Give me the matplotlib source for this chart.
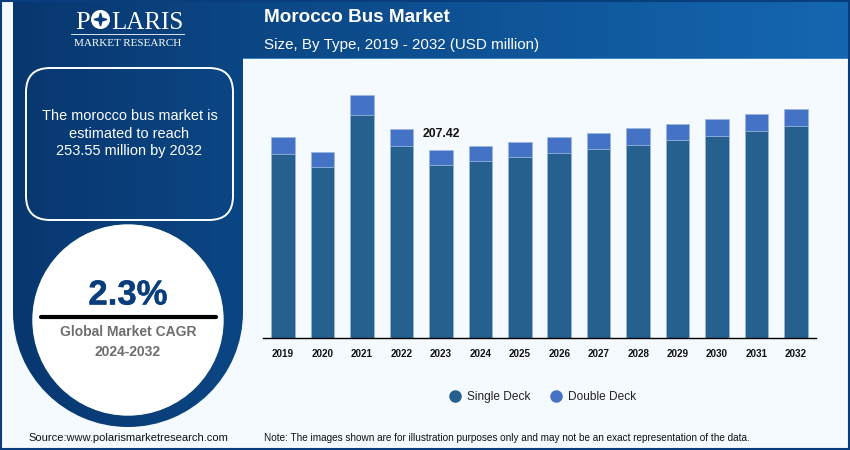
import numpy as np
import matplotlib
matplotlib.use('Agg')
import matplotlib.pyplot as plt
import matplotlib.patheffects as pe
from matplotlib.lines import Line2D
from matplotlib.patches import Circle, FancyBboxPatch, PathPatch, Polygon, Rectangle
from matplotlib.path import Path

plt.rcParams['font.family'] = ['Liberation Sans', 'DejaVu Sans']

# Chart data, USD million
years = ['2019', '2020', '2021', '2022', '2023', '2024', '2025',
         '2026', '2027', '2028', '2029', '2030', '2031', '2032']
single_deck = [203.2, 188.8, 246.2, 212.0, 190.7, 195.1, 199.5,
               203.9, 208.3, 213.1, 218.3, 223.0, 228.6, 234.1]
double_deck = [18.4, 16.7, 22.0, 18.6, 16.72, 16.7, 17.1,
               17.9, 17.9, 18.6, 18.2, 19.0, 18.9, 19.45]
labelled_year = '2023'
labelled_value = '207.42'

NAVY = '#0a3d7c'
PAGE = '#f4fafd'
SINGLE_COLOR = '#25608f'
DOUBLE_COLOR = '#4472c4'
BAR_EDGE = '#9db8e2'

fig = plt.figure(figsize=(8.5, 4.5), dpi=100, facecolor=PAGE)

# Full-figure layer in pixel coordinates for the infographic frame
bg = fig.add_axes([0, 0, 1, 1], zorder=0)
bg.set_xlim(0, 850)
bg.set_ylim(450, 0)
bg.axis('off')


def hgradient(ax, extent, left, right, clip=None, zorder=1):
    cmap = matplotlib.colors.LinearSegmentedColormap.from_list('g', [left, right])
    im = ax.imshow(np.linspace(0, 1, 256).reshape(1, -1), cmap=cmap, extent=extent,
                   aspect='auto', zorder=zorder)
    if clip is not None:
        im.set_clip_path(clip)
    return im


# Header band
hgradient(bg, (243, 848, 58, 2), '#0b4684', '#1467b0')
bg.add_patch(Rectangle((243, 58), 605, 1, color='#3f86c4', lw=0, zorder=2))

# Left panel: square top, round bottom
cx, cy, r = 128, 312, 115
k = 0.5523 * r
panel_path = Path(
    [(13, 2), (243, 2), (243, cy),
     (243, cy + k), (cx + k, cy + r), (cx, cy + r),
     (cx - k, cy + r), (13, cy + k), (13, cy), (13, 2)],
    [Path.MOVETO, Path.LINETO, Path.LINETO,
     Path.CURVE4, Path.CURVE4, Path.CURVE4,
     Path.CURVE4, Path.CURVE4, Path.CURVE4, Path.CLOSEPOLY])
panel = PathPatch(panel_path, facecolor='none', edgecolor='none', transform=bg.transData)
bg.add_patch(panel)
hgradient(bg, (13, 243, 430, 2), '#08376f', '#0b4684', clip=panel)
bg.set_xlim(0, 850)
bg.set_ylim(450, 0)

# Logo
logo_kw = dict(color='white', family='Liberation Serif', zorder=5)
bg.text(75.5, 29, 'P', fontsize=19, ha='left', va='baseline', **logo_kw)
bg.add_patch(Circle((100.5, 19.5), 8.8, color='white', zorder=5))
bg.add_patch(Polygon([(100.5 + (6.5 if i % 2 == 0 else 2) * np.cos(i * np.pi / 4),
                       19.5 + (6.5 if i % 2 == 0 else 2) * np.sin(i * np.pi / 4))
                      for i in range(8)], color=NAVY, zorder=6))
bg.text(111, 29, 'LARIS', fontsize=18, ha='left', va='baseline', **logo_kw)
bg.plot([71, 184], [34, 34], color='white', lw=0.6, zorder=5)
bg.text(128, 44, 'MARKET RESEARCH', fontsize=8, ha='center', va='center', **logo_kw)

# Text box
bg.add_patch(FancyBboxPatch((26 + 24, 68 + 24), 207 - 48, 152 - 48,
                            boxstyle='round,pad=24,rounding_size=24',
                            facecolor='none', edgecolor='white', lw=1.4, zorder=5))
for y, line in zip([115.5, 133.5, 151.5], ['The morocco bus market is', 'estimated to reach',
                                           '253.55 million by 2032']):
    bg.text(129.5, y, line, color='white', fontsize=10.45, ha='center', va='center', zorder=6)

# CAGR circle
bg.add_patch(Circle((128, 320), 95, color='white', zorder=5))
bg.text(128, 295, '2.3%', color=NAVY, fontsize=25, fontweight='bold', ha='center', va='center',
        zorder=6, path_effects=[pe.withStroke(linewidth=0.3, foreground=NAVY)])
bg.plot([41, 216], [316.7, 316.7], color='black', lw=3, solid_capstyle='round', zorder=6)
bg.text(128, 332.5, 'Global Market CAGR', color='#6e6e6e', fontsize=10, fontweight='bold',
        ha='center', va='center', zorder=6)
bg.text(128, 351.5, '2024-2032', color='#6e6e6e', fontsize=10, fontweight='bold',
        ha='center', va='center', zorder=6)

# Header and footer text
bg.text(264, 18, 'Morocco Bus Market', color='white', fontsize=13.6, fontweight='bold',
        va='center', zorder=6)
bg.text(264, 44.5, 'Size, By Type, 2019 - 2032 (USD million)', color='white', fontsize=10.9,
        va='center', zorder=6)
bg.text(28, 438, 'Source:www.polarismarketresearch.com', color='#111111', fontsize=8,
        va='center', zorder=6)
bg.text(264, 438, 'Note: The images shown are for illustration purposes only and may not be '
        'an exact representation of the data.', color='#111111', fontsize=7.2,
        va='center', zorder=6)

# Outer border
bg.add_patch(Rectangle((1, 1), 848, 448, facecolor='none', edgecolor=NAVY, lw=1.5, zorder=8))

# Bar chart
ax = fig.add_axes([263.4 / 850, (450 - 338) / 450, 552.2 / 850, 280 / 450],
                  facecolor='none', zorder=2)
positions = np.arange(len(years))
ax.bar(positions, single_deck, width=0.6, color=SINGLE_COLOR, edgecolor=BAR_EDGE, linewidth=0.4)
ax.bar(positions, double_deck, width=0.6, bottom=single_deck, color=DOUBLE_COLOR,
       edgecolor=BAR_EDGE, linewidth=0.4)
ax.set_xlim(-0.5, 13.5)
ax.set_ylim(0, 309.4)
ax.set_xticks(positions)
ax.set_xticklabels(years, fontsize=7.1, fontweight='bold', color='#111111')
ax.tick_params(axis='x', length=0, pad=8)
ax.set_yticks([])
for side in ['top', 'left', 'right']:
    ax.spines[side].set_visible(False)
ax.spines['bottom'].set_color('black')
ax.spines['bottom'].set_linewidth(1)

i = years.index(labelled_year)
ax.annotate(labelled_value, (i, single_deck[i] + double_deck[i]), xytext=(0, 12),
            textcoords='offset points', ha='center', va='center', fontsize=8.8,
            fontweight='bold', color='#111111')

handles = [Line2D([], [], marker='o', ls='', ms=8, color=SINGLE_COLOR, label='Single Deck'),
           Line2D([], [], marker='o', ls='', ms=8, color=DOUBLE_COLOR, label='Double Deck')]
fig.legend(handles=handles, loc='center', bbox_to_anchor=(539.5 / 850, 1 - 397 / 450), ncol=2,
           frameon=False, fontsize=8.6, handletextpad=0.0, columnspacing=1.1,
           labelcolor='#222222')

fig.savefig('out.png', dpi=100, facecolor=PAGE)
